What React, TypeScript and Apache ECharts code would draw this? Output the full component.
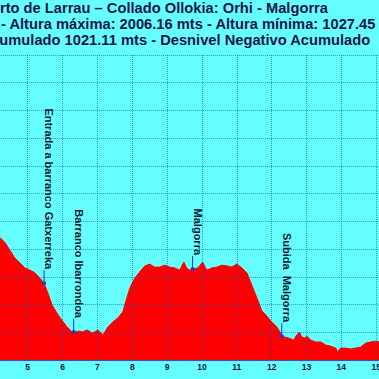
import React, { useEffect, useRef } from "react";
import * as echarts from "echarts";

const distanceKm = [
  4.19, 4.34, 4.49, 4.63, 4.78, 4.92, 5.07, 5.21, 5.35, 5.47, 5.58, 5.7, 5.84, 5.98, 6.13, 6.27,
  6.35, 6.49, 6.58, 6.65, 6.72, 6.84, 6.92, 7.01, 7.08, 7.16, 7.3, 7.44, 7.58, 7.73, 7.84, 7.93,
  8.07, 8.21, 8.36, 8.5, 8.64, 8.79, 8.93, 9.07, 9.22, 9.36, 9.48, 9.56, 9.65, 9.73, 9.88, 10.02,
  10.14, 10.28, 10.43, 10.57, 10.72, 10.86, 11.0, 11.15, 11.29, 11.43, 11.58, 11.72, 11.86, 12.0,
  12.15, 12.29, 12.37, 12.49, 12.63, 12.72, 12.8, 12.86, 12.95, 13.01, 13.12, 13.26, 13.41, 13.55,
  13.69, 13.84, 13.89, 13.98, 14.12, 14.27, 14.41, 14.56, 14.7, 14.84, 14.99, 15.1,
];
const elevation = [
  1443, 1425, 1396, 1368, 1350, 1332, 1324, 1314, 1295, 1277, 1241, 1198, 1169, 1144, 1119, 1101,
  1101, 1104, 1101, 1106, 1108, 1097, 1101, 1108, 1100, 1090, 1119, 1137, 1151, 1173, 1223, 1259,
  1295, 1317, 1339, 1346, 1335, 1335, 1342, 1335, 1332, 1324, 1353, 1332, 1324, 1328, 1332, 1353,
  1324, 1332, 1335, 1342, 1339, 1335, 1346, 1332, 1314, 1270, 1223, 1177, 1159, 1137,
  1119, 1090, 1083, 1079, 1072, 1090, 1101, 1083, 1079, 1086, 1072, 1065, 1065, 1054,
  1050, 1043, 1029, 1043, 1043, 1040, 1043, 1047, 1061, 1065, 1068, 1065,
];

const markerNames = [
  "Entrada a barranco Gatxerreka",
  "Barranco Ibarrondoa",
  "Malgorra",
  "Subida  Malgorra",
];
const markerKm = [5.47, 6.32, 9.73, 12.29];
const markerElev = [1277, 1101, 1328, 1086];

const titleLines = [
  "Puerto de Larrau – Collado Ollokia: Orhi - Malgorra",
  "- Altura máxima: 2006.16 mts - Altura mínima: 1027.45 mts",
  "Desnivel Positivo Acumulado 1021.11 mts - Desnivel Negativo Acumulado",
];

const xMin = 4;
const xMax = 16;
const yMin = 1000;
const yMax = 2100;

const OFFSET = 20;
const CHART_W = 450;
const FONT = "'Liberation Sans', Arial, sans-serif";
const TITLE_COLOR = "#15154a";

export default function App() {
  const ref = useRef<HTMLDivElement>(null);
  useEffect(() => {
    if (!ref.current) return;
    const chart = echarts.init(ref.current, undefined, { renderer: "svg" });
    const lineData = distanceKm.map((k, i) => [k, elevation[i]]);
    const markerData = markerKm.map((k, i) => [k, markerElev[i]]);
    const splitStyle = { show: true, lineStyle: { color: "rgba(0,80,210,0.6)", type: "dotted", width: 1 } };
    chart.setOption({
      animation: false,
      backgroundColor: "#66ffff",
      grid: { left: 12.85, right: 18.95, top: 55, bottom: 19, containLabel: false },
      xAxis: {
        type: "value",
        min: xMin,
        max: xMax,
        interval: 1,
        z: 3,
        axisLine: { show: true, lineStyle: { color: "#3a4fc0", width: 1 } },
        axisTick: { show: false },
        axisLabel: {
          color: "#15154a",
          fontSize: 8.5,
          fontWeight: "bold",
          fontFamily: FONT,
          margin: 2,
        },
        splitLine: splitStyle,
      },
      yAxis: {
        type: "value",
        min: yMin,
        max: yMax,
        interval: 100,
        z: 3,
        axisLine: { show: false },
        axisTick: { show: false },
        axisLabel: { show: false },
        splitLine: splitStyle,
      },
      series: [
        {
          type: "line",
          data: lineData,
          showSymbol: false,
          symbol: "none",
          lineStyle: { color: "#ff0000", width: 1 },
          areaStyle: { color: "#ff0000", opacity: 1, origin: "start" },
          z: 2,
        },
        {
          type: "custom",
          data: markerData,
          z: 5,
          clip: false,
          renderItem: (params: any, api: any) => {
            const p = api.coord([api.value(0), api.value(1)]);
            const name = markerNames[params.dataIndex];
            return {
              type: "group",
              children: [
                {
                  type: "line",
                  shape: { x1: p[0], y1: p[1], x2: p[0], y2: p[1] - 13 },
                  style: { stroke: "#1a3ad0", lineWidth: 1 },
                },
                {
                  type: "circle",
                  shape: { cx: p[0], cy: p[1], r: 2 },
                  style: { fill: "#1a3ad0" },
                },
                {
                  type: "text",
                  x: p[0] + 5,
                  y: p[1] - 14,
                  rotation: -Math.PI / 2,
                  style: {
                    text: name,
                    fill: "#181830",
                    fontSize: 11,
                    fontWeight: "bold",
                    fontFamily: FONT,
                    align: "right",
                    verticalAlign: "middle",
                  },
                },
              ],
            };
          },
        },
      ],
      graphic: [
        {
          type: "text",
          x: 328 + OFFSET,
          y: 8,
          style: {
            text: titleLines[0],
            fill: TITLE_COLOR,
            fontSize: 14.7,
            fontWeight: "bold",
            fontFamily: FONT,
            align: "right",
            verticalAlign: "middle",
          },
        },
        {
          type: "text",
          x: 1 + OFFSET,
          y: 24,
          style: {
            text: titleLines[1],
            fill: TITLE_COLOR,
            fontSize: 14.7,
            fontWeight: "bold",
            fontFamily: FONT,
            align: "left",
            verticalAlign: "middle",
          },
        },
        {
          type: "text",
          x: -144.6 + OFFSET,
          y: 40,
          style: {
            text: titleLines[2],
            fill: TITLE_COLOR,
            fontSize: 14.7,
            fontWeight: "bold",
            fontFamily: FONT,
            align: "left",
            verticalAlign: "middle",
          },
        },
      ],
    });
    return () => chart.dispose();
  }, []);
  return (
    <div
      style={{
        position: "fixed",
        left: 0,
        top: 0,
        width: 379,
        height: 379,
        overflow: "hidden",
        background: "#66ffff",
      }}
    >
      <div
        ref={ref}
        style={{ position: "absolute", left: -OFFSET, top: 0, width: CHART_W, height: 379 }}
      />
    </div>
  );
}
